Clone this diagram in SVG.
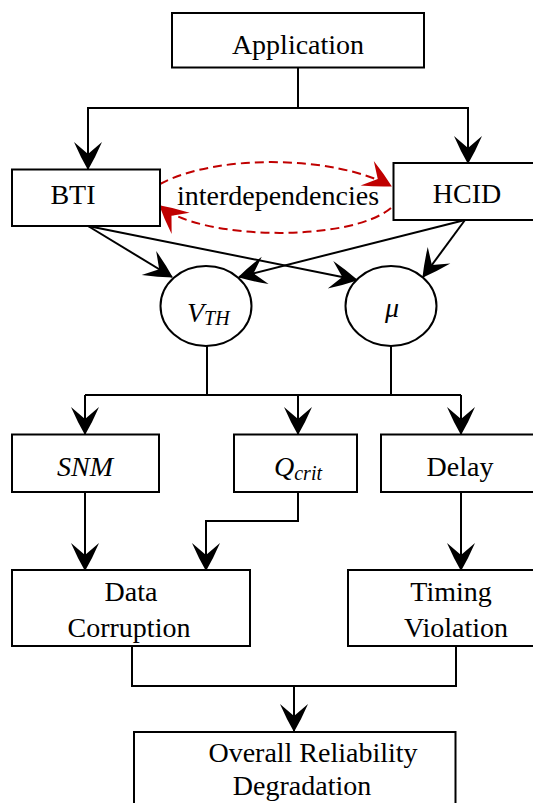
<svg xmlns="http://www.w3.org/2000/svg" width="533" height="803" viewBox="0 0 533 803">
  <style>
    .box { fill: #fff; stroke: #000; stroke-width: 2; }
    .node-ell { fill: #fff; stroke: #000; stroke-width: 2; }
    .lbl { font-family: "Liberation Serif", "Times New Roman", "DejaVu Serif", serif; font-size: 28px; fill: #000; text-anchor: middle; }
    .math { font-style: italic; }
    .sub { font-size: 20px; }
    .wire { fill: none; stroke: #000; stroke-width: 2; marker-end: url(#arrow); }
    .plain { fill: none; stroke: #000; stroke-width: 2; }
    .dep { fill: none; stroke: #c00000; stroke-width: 2; stroke-dasharray: 9 5; marker-end: url(#arrow-red); }
  </style>
  <defs>
    <marker id="arrow" markerUnits="userSpaceOnUse" viewBox="-30 -16 32 32" markerWidth="32" markerHeight="32" refX="0" refY="0" orient="auto">
      <path d="M1,0 Q-12,-7.5 -27,-14 L-15,0 L-27,14 Q-12,7.5 1,0 Z" fill="#000"/>
    </marker>
    <marker id="arrow-red" markerUnits="userSpaceOnUse" viewBox="-30 -16 32 32" markerWidth="32" markerHeight="32" refX="0" refY="0" orient="auto">
      <path d="M1,0 Q-12,-7.5 -27,-14 L-15,0 L-27,14 Q-12,7.5 1,0 Z" fill="#c00000"/>
    </marker>
  </defs>

  <!-- connectors -->
  <g id="connectors">
    <path class="wire" d="M298,67 V108 H88 V169"/>
    <path class="wire" d="M298,108 H468 V163"/>
    <path class="wire" d="M88,226 L172,277"/>
    <path class="wire" d="M88,226 L357,280"/>
    <path class="wire" d="M465,220 L239,277"/>
    <path class="wire" d="M465,220 L423,277"/>
    <path class="plain" d="M207,346 V395 M391,346 V395 M85,395 H461"/>
    <path class="wire" d="M85,395 V434"/>
    <path class="wire" d="M298,395 V434"/>
    <path class="wire" d="M461,395 V434"/>
    <path class="wire" d="M85,492 V570"/>
    <path class="wire" d="M298,492 V521 H206 V570"/>
    <path class="wire" d="M461,492 V570"/>
    <path class="plain" d="M132,646 V686 H456 V646"/>
    <path class="wire" d="M294,686 V731"/>
    <path class="dep" d="M160,184 C217,153.5 334,155.5 391,186"/>
    <path class="dep" d="M391,208 C350,242.5 201,240.5 160,206"/>
  </g>

  <g id="application">
    <rect class="box" x="172" y="13" width="252" height="54.5"/>
    <text class="lbl" x="298" y="54">Application</text>
  </g>
  <g id="bti">
    <rect class="box" x="12" y="169.5" width="148" height="56.5"/>
    <text class="lbl" x="73" y="204">BTI</text>
  </g>
  <g id="hcid">
    <rect class="box" x="393.5" y="163" width="152" height="57"/>
    <text class="lbl" x="467" y="203">HCID</text>
  </g>
  <g id="interdependencies">
    <text class="lbl" x="278" y="205">interdependencies</text>
  </g>
  <g id="vth">
    <ellipse class="node-ell" cx="206" cy="306" rx="45.5" ry="40"/>
    <text class="lbl math" x="187" y="322" style="text-anchor:start">V<tspan class="sub" dy="3">TH</tspan></text>
  </g>
  <g id="mu">
    <ellipse class="node-ell" cx="391" cy="306" rx="45.5" ry="40"/>
    <text class="lbl math" x="392" y="317">μ</text>
  </g>
  <g id="snm">
    <rect class="box" x="12" y="434.5" width="147" height="57.5"/>
    <text class="lbl math" x="85" y="476">SNM</text>
  </g>
  <g id="qcrit">
    <rect class="box" x="234" y="434.5" width="123" height="57.5"/>
    <text class="lbl math" x="274" y="476" style="text-anchor:start">Q<tspan class="sub" dy="4">crit</tspan></text>
  </g>
  <g id="delay">
    <rect class="box" x="381" y="434.5" width="162" height="57.5"/>
    <text class="lbl" x="460" y="476">Delay</text>
  </g>
  <g id="data-corruption">
    <rect class="box" x="12" y="570" width="238" height="76"/>
    <text class="lbl" x="131" y="601">Data</text>
    <text class="lbl" x="129" y="637">Corruption</text>
  </g>
  <g id="timing-violation">
    <rect class="box" x="348" y="570" width="220" height="76"/>
    <text class="lbl" x="451" y="601">Timing</text>
    <text class="lbl" x="456" y="637">Violation</text>
  </g>
  <g id="overall">
    <rect class="box" x="134" y="732" width="321.5" height="100"/>
    <text class="lbl" x="313" y="762">Overall Reliability</text>
    <text class="lbl" x="302" y="795">Degradation</text>
  </g>
</svg>
